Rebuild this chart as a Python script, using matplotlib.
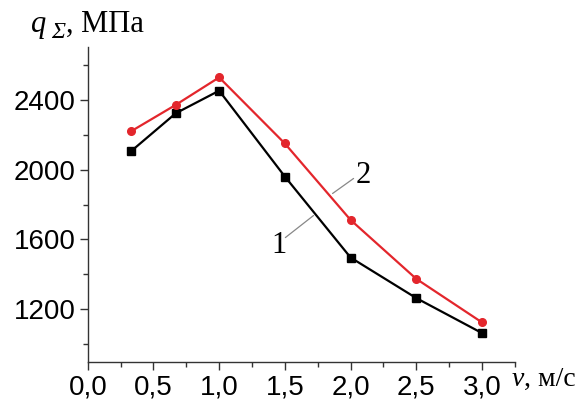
import matplotlib
matplotlib.use("Agg")
import matplotlib.pyplot as plt
from matplotlib.ticker import MultipleLocator, FuncFormatter

# speed, m/s
v = [0.33, 0.67, 1.0, 1.5, 2.0, 2.5, 3.0]
# curve 1 (black squares) and curve 2 (red circles), MPa
q1 = [2105, 2322, 2451, 1960, 1497, 1265, 1065]
q2 = [2219, 2370, 2527, 2149, 1712, 1375, 1126]

W, H = 585, 403

def px(x, y):
    # pixel position (from top-left) -> figure fraction
    return x / W, 1 - y / H

fig = plt.figure(figsize=(W / 100, H / 100), dpi=100)
ax = fig.add_axes([0.150, 0.102, 0.730, 0.781])

ax.plot(v, q1, color='black', lw=1.6, marker='s', ms=5.5)
ax.plot(v, q2, color='#e3262c', lw=1.6, marker='o', ms=5.5)

ax.set_xlim(0, 3.25)
ax.set_ylim(900, 2700)
ax.xaxis.set_major_locator(MultipleLocator(0.5))
ax.xaxis.set_minor_locator(MultipleLocator(0.25))
ax.yaxis.set_major_locator(MultipleLocator(400))
ax.yaxis.set_minor_locator(MultipleLocator(200))
ax.xaxis.set_major_formatter(FuncFormatter(lambda x, p: f"{x:.1f}".replace('.', ',')))

for s in ['top', 'right']:
    ax.spines[s].set_visible(False)
for s in ['left', 'bottom']:
    ax.spines[s].set_color('#333333')
    ax.spines[s].set_linewidth(1.0)

ax.tick_params(which='major', direction='out', length=6, width=1, color='#333333',
               labelsize=20, labelfontfamily='Liberation Sans', pad=3)
ax.tick_params(which='minor', direction='out', length=3.5, width=1, color='#333333')

# curve labels with leader lines
serif = 'Liberation Serif'
ax.annotate('', xy=(1.504, 1611), xytext=(1.718, 1737),
            arrowprops=dict(arrowstyle='-', color='#888888', lw=0.9, shrinkA=0, shrinkB=0))
ax.text(1.458, 1566, '1', fontsize=22, family=serif, ha='center', va='center')
ax.annotate('', xy=(1.863, 1863), xytext=(2.023, 1949),
            arrowprops=dict(arrowstyle='-', color='#888888', lw=0.9, shrinkA=0, shrinkB=0))
ax.text(2.099, 1966, '2', fontsize=22, family=serif, ha='center', va='center')

# axis titles
fig.text(*px(31, 32), 'q', fontsize=22, family=serif, style='italic', va='baseline')
fig.text(*px(51, 38), 'Σ', fontsize=17, family=serif, style='italic', va='baseline')
fig.text(*px(66, 32), ', МПа', fontsize=22, family=serif, va='baseline')
fig.text(*px(512, 386), 'v', fontsize=20, family=serif, style='italic', va='baseline')
fig.text(*px(524, 386), ', м/с', fontsize=20, family=serif, va='baseline')

fig.savefig('out.png', dpi=100)
